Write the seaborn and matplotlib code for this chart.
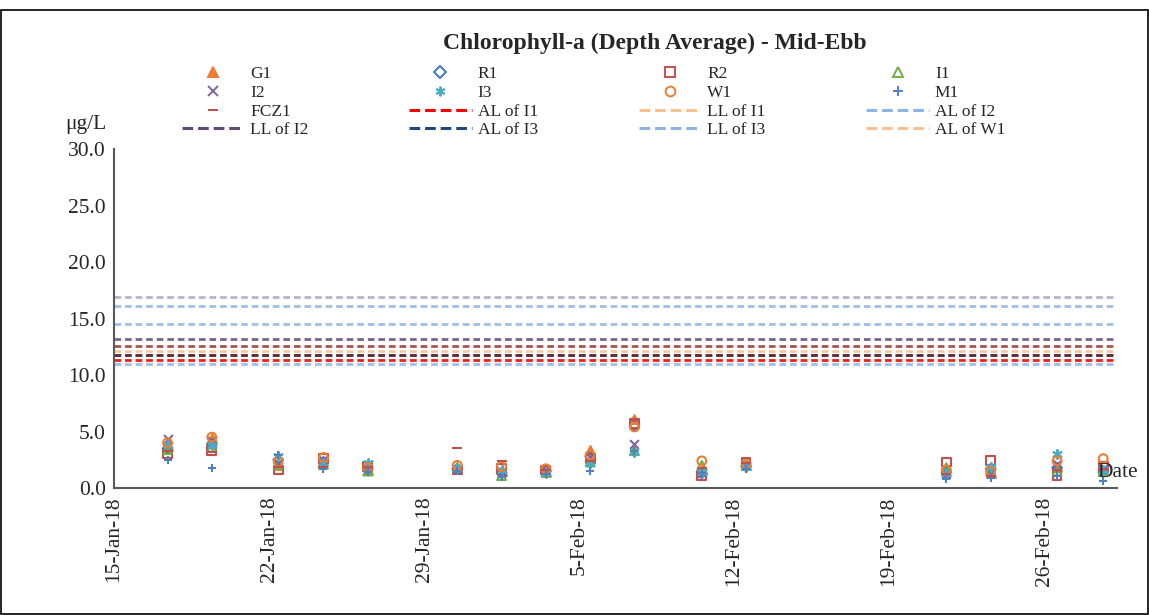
import pandas as pd
import matplotlib
matplotlib.use("Agg")
import matplotlib.pyplot as plt
import matplotlib.dates as mdates
from matplotlib.lines import Line2D
import seaborn as sns

# sampling times (mid-ebb)
sample_times = ["2018-01-17 10:00", "2018-01-19 10:00", "2018-01-22 10:00", "2018-01-24 11:00",
                "2018-01-26 11:00", "2018-01-30 12:00", "2018-02-01 12:00", "2018-02-03 12:00",
                "2018-02-05 12:00", "2018-02-07 12:00", "2018-02-10 13:00", "2018-02-12 13:00",
                "2018-02-21 14:00", "2018-02-23 14:00", "2018-02-26 14:00", "2018-02-28 16:00"]

# chlorophyll-a, ug/L
G1 = [3.7, 4.4, 2.0, 2.4, 1.6, 1.9, 1.5, 1.4, 3.4, 6.1, 1.6, 2.0, 1.5, 1.3, 1.9, 1.6]
R1 = [3.5, 3.9, 2.5, 2.3, 1.7, 1.7, 1.3, 1.5, 2.8, 5.5, 1.3, 1.9, 1.4, 1.7, 1.8, 1.4]
R2 = [3.0, 3.3, 1.6, 2.6, 1.9, 1.6, 1.7, 1.6, 2.6, 5.7, 1.1, 2.3, 2.3, 2.4, 1.1, 1.9]
I1 = [3.4, 3.6, 2.1, 2.1, 1.5, 1.8, 1.1, 1.4, 2.3, 3.3, 2.0, 2.0, 1.8, 1.6, 1.5, 1.5]
I2 = [4.3, 4.2, 2.2, 2.5, 2.0, 1.7, 1.4, 1.5, 2.7, 3.9, 1.3, 2.0, 1.2, 1.4, 2.1, 1.7]
I3 = [3.8, 3.8, 2.8, 2.2, 2.2, 1.8, 1.6, 1.3, 2.2, 3.2, 1.4, 1.9, 1.3, 1.9, 3.0, 1.6]
W1 = [4.0, 4.5, 2.3, 2.7, 1.8, 2.0, 1.9, 1.7, 2.9, 5.4, 2.4, 2.1, 1.6, 1.5, 2.4, 2.6]
M1 = [2.5, 1.8, 2.9, 1.7, 1.4, 1.5, 1.0, 1.2, 1.5, 3.3, 1.3, 1.7, 0.8, 0.9, 1.1, 0.6]
FCZ1 = [3.3, 3.2, 1.9, 1.9, 1.9, 3.5, 2.4, 1.6, 2.4, 6.0, 1.8, 2.2, 1.2, 1.1, 1.6, 1.7]

stations = ["G1", "R1", "R2", "I1", "I2", "I3", "W1", "M1", "FCZ1"]
station_values = [G1, R1, R2, I1, I2, I3, W1, M1, FCZ1]

# action / limit levels
level_names = ["LL of W1", "LL of I3", "LL of I3b", "LL of I2", "LL of W1b", "LL of I1",
               "AL of I3", "AL of W1b", "AL of W1", "AL of I1", "AL of I2"]
level_values = [16.9, 16.1, 14.5, 13.2, 12.6, 12.1, 11.8, 11.8, 11.3, 11.3, 11.0]

# styles
st_style = {
    "G1": dict(marker="^", fc="#ED7D31", ec="#ED7D31"),
    "R1": dict(marker="D", fc="none", ec="#4472C4", s=24),
    "R2": dict(marker="s", fc="none", ec="#C0504D"),
    "I1": dict(marker="^", fc="none", ec="#70AD47"),
    "I2": dict(marker="x", c="#8064A2"),
    "I3": dict(marker=(6, 2, 0), c="#4BACC6"),
    "W1": dict(marker="o", fc="none", ec="#ED7D31"),
    "M1": dict(marker="+", c="#4F81BD"),
    "FCZ1": dict(marker="_", c="#C0504D", s=45),
}
lv_color = {
    "LL of W1": "#B3A2C7", "LL of I3": "#8EB4E3", "LL of I3b": "#8EB4E3", "LL of I2": "#604A7B",
    "LL of W1b": "#953735", "LL of I1": "#FAC090", "AL of I3": "#1F497D", "AL of W1b": "#632523",
    "AL of W1": "#FAC090", "AL of I1": "#FF0000", "AL of I2": "#8EB4E3",
}

sns.set_style("white")
plt.rcParams["font.family"] = ["Liberation Serif", "DejaVu Serif"]

fig = plt.figure(figsize=(11.49, 6.15), dpi=100)
ax = fig.add_axes([0.0992, 0.2065, 0.8730, 0.5512])

t = pd.to_datetime(sample_times)
for name, vals in zip(stations, station_values):
    kw = dict(st_style[name])
    s = kw.pop("s", 40)
    sns.scatterplot(x=t, y=vals, s=s, linewidth=1.5, ax=ax, zorder=3, **kw)

for name, v in zip(level_names, level_values):
    ax.axhline(v, color=lv_color[name], ls=(0, (2.4, 1.4)), lw=2.0, alpha=0.85, zorder=2)

ax.set_ylim(0, 30)
ax.set_yticks(range(0, 31, 5))
ax.yaxis.set_major_formatter(plt.FormatStrFormatter("%.1f"))
ax.set_xlim(pd.Timestamp("2018-01-15 00:00"), pd.Timestamp("2018-03-01 07:00"))
ax.xaxis.set_major_locator(mdates.WeekdayLocator(byweekday=mdates.MO))
ax.xaxis.set_major_formatter(mdates.DateFormatter("%-d-%b-%y"))
ax.tick_params(axis="x", rotation=90)
ax.tick_params(direction="in", length=6, width=1.2, color="#404040", labelsize=15.5, pad=6)
for sp in ["top", "right"]:
    ax.spines[sp].set_visible(False)
for sp in ["left", "bottom"]:
    ax.spines[sp].set_color("#595959")
    ax.spines[sp].set_linewidth(1.5)
ax.set_xlabel("")
ax.set_ylabel("")

# legend
handles, labels = [], []
for name in stations:
    kw = st_style[name]
    if "c" in kw:
        h = Line2D([], [], ls="none", marker=kw["marker"], color=kw["c"], markersize=7, mew=1.4)
    else:
        h = Line2D([], [], ls="none", marker=kw["marker"], mfc=kw["fc"], mec=kw["ec"],
                   markersize=6 if name == "R1" else 7, mew=1.4)
    handles.append(h)
    labels.append(name)
for name in ["AL of I1", "LL of I1", "AL of I2", "LL of I2", "AL of I3", "LL of I3", "AL of W1"]:
    handles.append(Line2D([], [], color=lv_color[name], ls=(0, (3.5, 1.6)), lw=2.2))
    labels.append(name)
order = [r * 4 + c for c in range(4) for r in range(4)]
fig.legend([handles[i] for i in order], [labels[i] for i in order], ncol=4,
           loc="upper left", bbox_to_anchor=(0.158, 0.893), frameon=False,
           fontsize=12.5, handlelength=3.6, handletextpad=0.35, columnspacing=5.8,
           labelspacing=0.155, borderpad=0, borderaxespad=0)

fig.text(0.570, 0.929, "Chlorophyll-a (Depth Average) - Mid-Ebb", ha="center", va="center",
         fontsize=17, fontweight="bold")
fig.text(0.0565, 0.798, "μg/L", ha="left", va="center", fontsize=15.5)
fig.text(0.955, 0.231, "Date", ha="left", va="center", fontsize=15.5)

fig.add_artist(plt.Rectangle((0.001, 0.002), 0.998, 0.981, transform=fig.transFigure,
                             fill=False, ec="black", lw=1.2))

fig.savefig("out.png", dpi=100)
